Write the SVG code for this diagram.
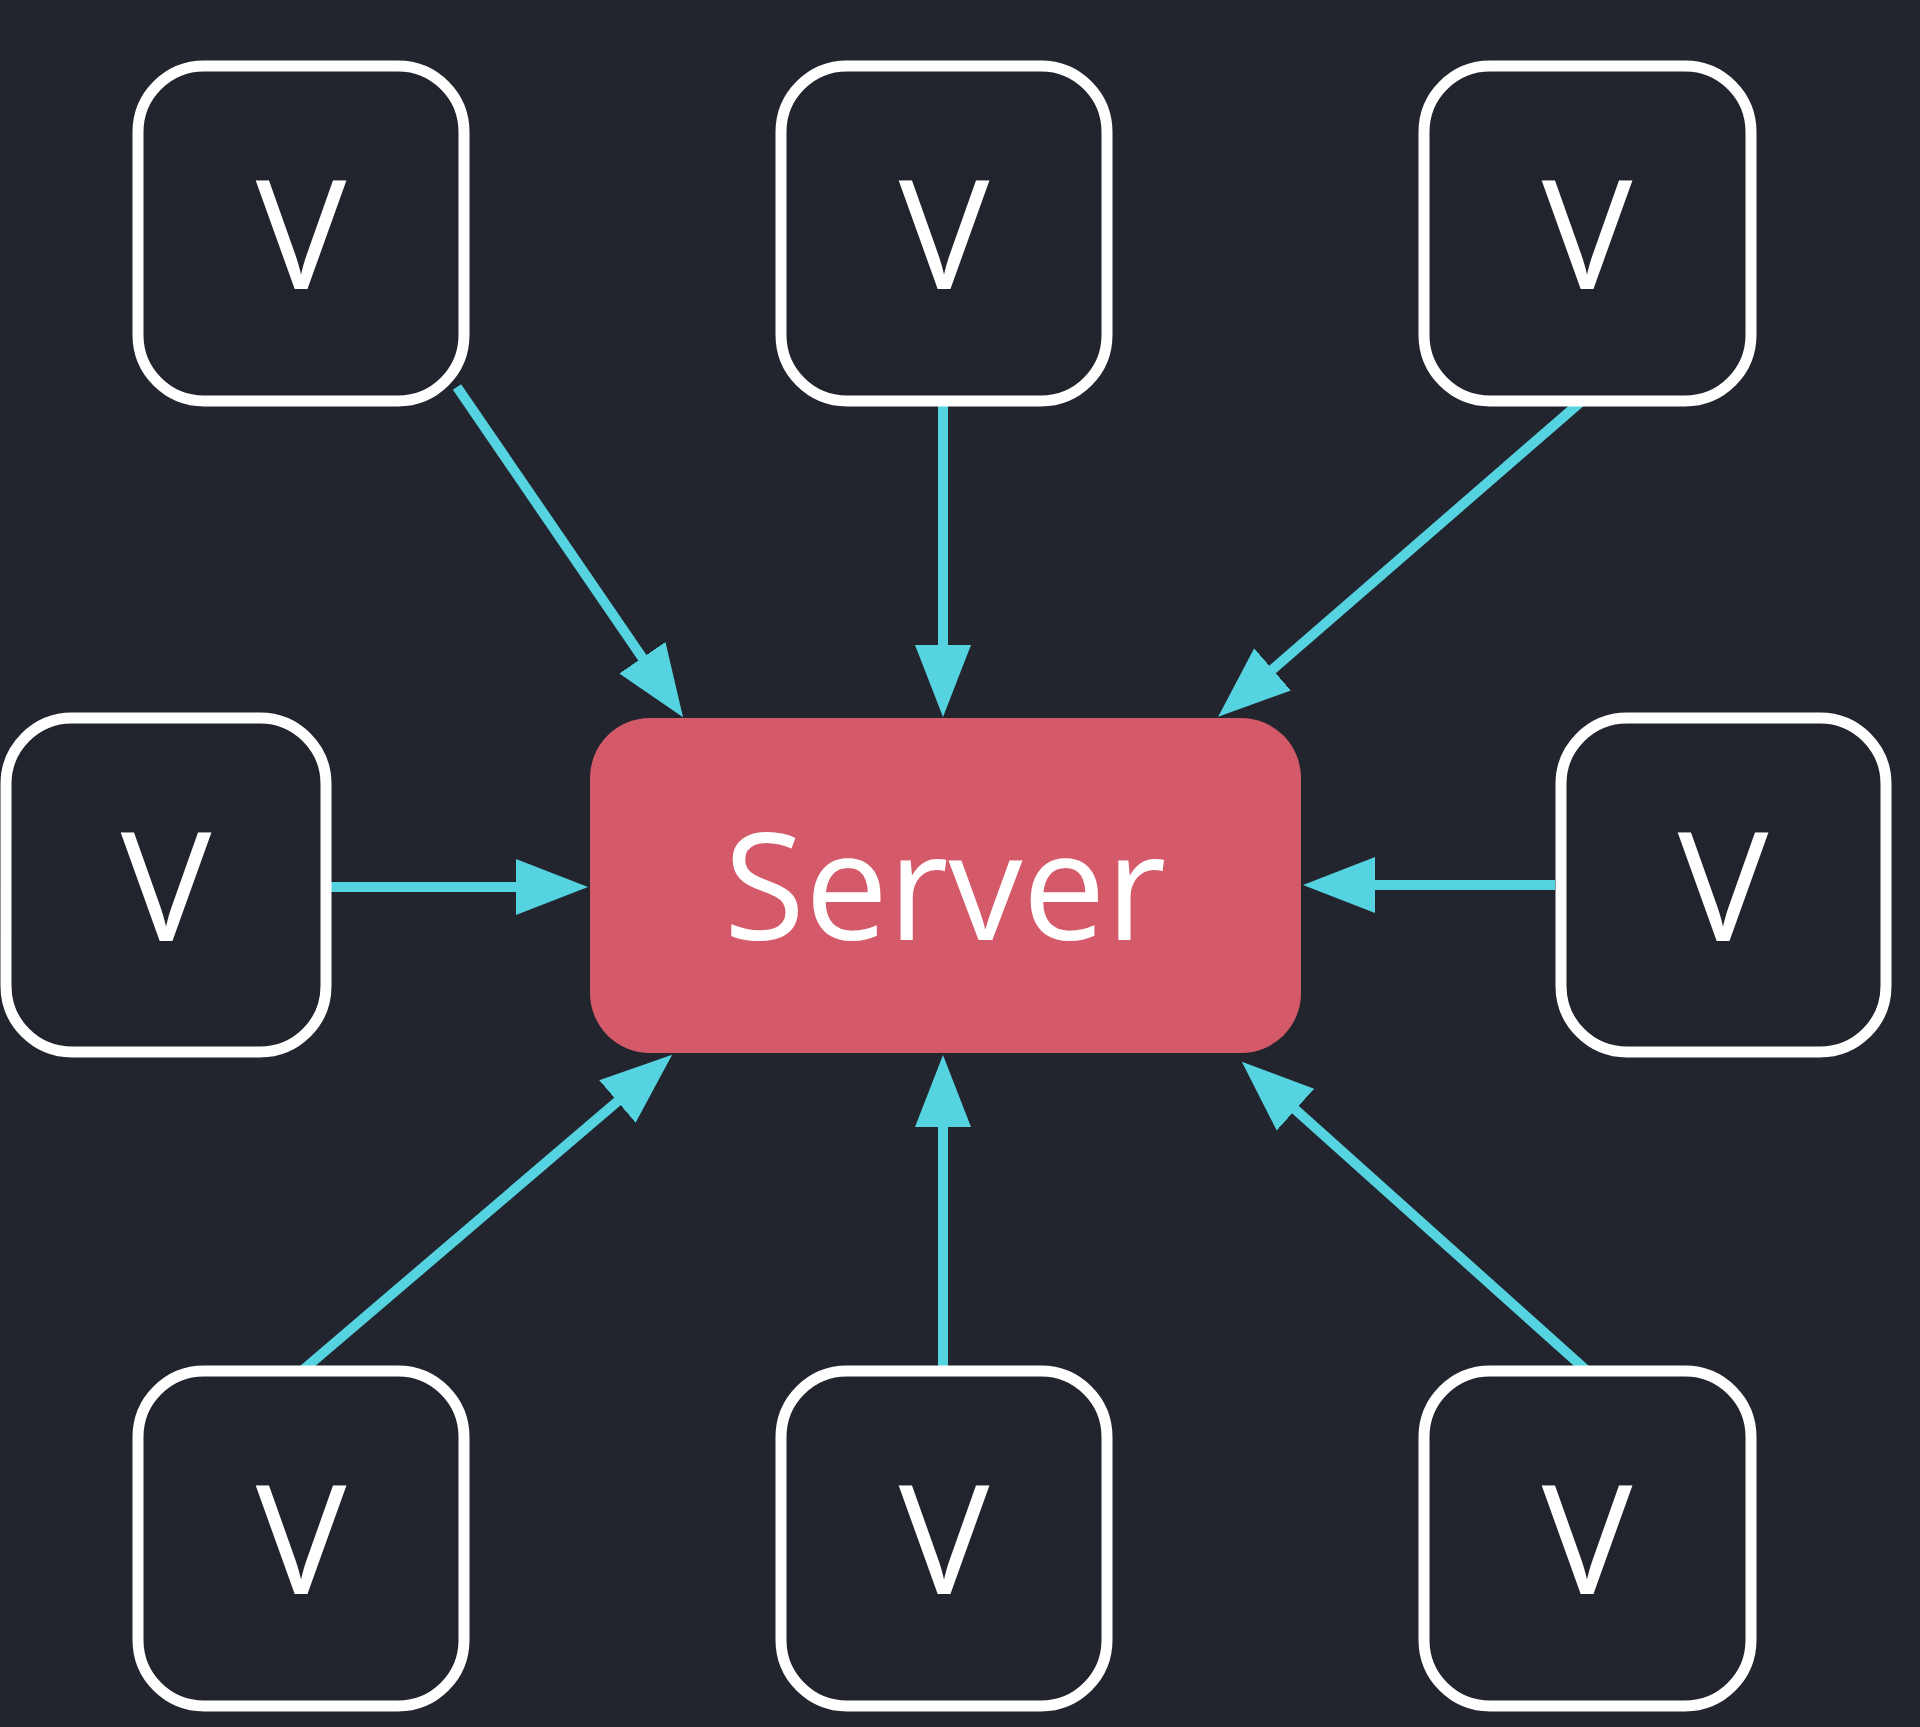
<svg xmlns="http://www.w3.org/2000/svg" width="1920" height="1727" viewBox="0 0 1920 1727">
  <style>
    .bg { fill: #22252e; }
    .vnode rect { fill: #22242d; stroke: #ffffff; stroke-width: 11; }
    .vnode text { fill: #ffffff; font-family: "Open Sans", "Lato", sans-serif; font-weight: 400; font-size: 152px; text-anchor: middle; }
    .server rect { fill: #d55a69; }
    .server text { fill: #ffffff; font-family: "Open Sans", "Lato", sans-serif; font-weight: 500; font-size: 148px; text-anchor: middle; }
    .edge { stroke: #56d3e0; stroke-width: 10; fill: none; marker-end: url(#head); }
  </style>
  <defs>
    <marker id="head" markerUnits="userSpaceOnUse" markerWidth="74" markerHeight="58" refX="10" refY="28" orient="auto">
      <path d="M0,0 L72,28 L0,56 z" fill="#56d3e0"/>
    </marker>
  </defs>

  <rect class="bg" x="0" y="0" width="1920" height="1727"/>

  <!-- connectors: every client points at the server -->
  <g id="connectors">
    <line class="edge" x1="457" y1="387" x2="648" y2="666"/>
    <line class="edge" x1="943" y1="401" x2="943" y2="655"/>
    <line class="edge" x1="1583" y1="400" x2="1265" y2="676"/>
    <line class="edge" x1="330" y1="887" x2="526" y2="887"/>
    <line class="edge" x1="1555" y1="885" x2="1365" y2="885"/>
    <line class="edge" x1="303" y1="1370" x2="625" y2="1095"/>
    <line class="edge" x1="943" y1="1370" x2="943" y2="1117"/>
    <line class="edge" x1="1586" y1="1370" x2="1288" y2="1103"/>
  </g>

  <!-- central server -->
  <g id="server" class="server">
    <rect x="590" y="718" width="711" height="335" rx="60"/>
    <text x="945" y="940">Server</text>
  </g>

  <!-- client nodes -->
  <g id="v-top-left" class="vnode">
    <rect x="138" y="66" width="326" height="335" rx="66"/>
    <text x="301" y="289">V</text>
  </g>
  <g id="v-top-mid" class="vnode">
    <rect x="781" y="66" width="326" height="335" rx="66"/>
    <text x="944" y="289">V</text>
  </g>
  <g id="v-top-right" class="vnode">
    <rect x="1424" y="66" width="327" height="335" rx="66"/>
    <text x="1587" y="289">V</text>
  </g>
  <g id="v-mid-left" class="vnode">
    <rect x="6" y="718" width="320" height="334" rx="66"/>
    <text x="166" y="941">V</text>
  </g>
  <g id="v-mid-right" class="vnode">
    <rect x="1561" y="718" width="325" height="334" rx="66"/>
    <text x="1723" y="941">V</text>
  </g>
  <g id="v-bottom-left" class="vnode">
    <rect x="138" y="1371" width="326" height="335" rx="66"/>
    <text x="301" y="1594">V</text>
  </g>
  <g id="v-bottom-mid" class="vnode">
    <rect x="781" y="1371" width="326" height="335" rx="66"/>
    <text x="944" y="1594">V</text>
  </g>
  <g id="v-bottom-right" class="vnode">
    <rect x="1424" y="1371" width="327" height="335" rx="66"/>
    <text x="1587" y="1594">V</text>
  </g>
</svg>
